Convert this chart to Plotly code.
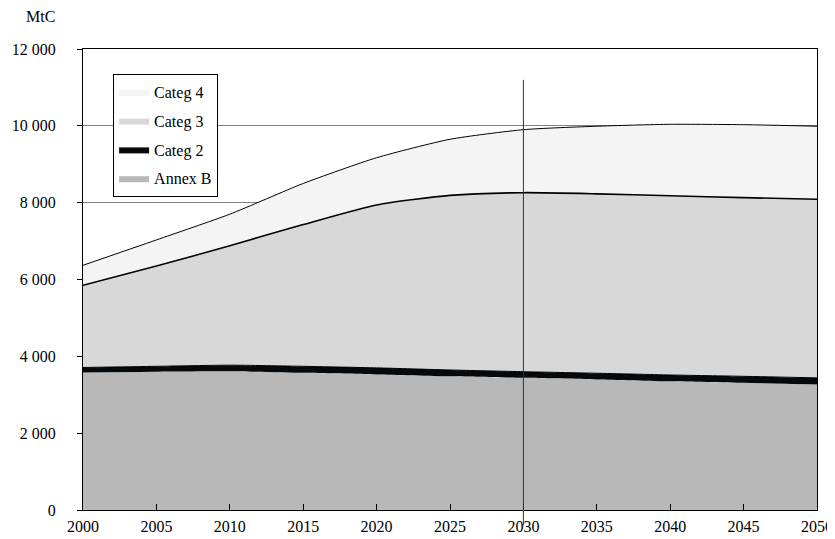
import numpy as np
import plotly.graph_objects as go

years = [2000, 2005, 2010, 2015, 2020, 2025, 2030, 2035, 2040, 2045, 2050]
annex_b = [3580, 3600, 3610, 3570, 3530, 3480, 3440, 3400, 3350, 3310, 3270]
categ_2 = [130, 140, 160, 170, 170, 165, 160, 160, 165, 170, 170]
categ_3 = [2140, 2610, 3110, 3690, 4240, 4545, 4660, 4670, 4665, 4650, 4650]
categ_4 = [520, 680, 820, 1070, 1230, 1460, 1640, 1760, 1860, 1900, 1900]

y_tickvals = [0, 2000, 4000, 6000, 8000, 10000, 12000]
y_ticktext = ["0", "2 000", "4 000", "6 000", "8 000", "10 000", "12 000"]
x_tickvals = [2000, 2005, 2010, 2015, 2020, 2025, 2030, 2035, 2040, 2045, 2050]

marker_year = 2030
unit_label = "MtC"

FONT = "Liberation Serif"

series = [
    ("Annex B", annex_b, "#b8b8b8"),
    ("Categ 2", categ_2, "#05090c"),
    ("Categ 3", categ_3, "#d8d8d8"),
    ("Categ 4", categ_4, "#f4f4f4"),
]

fig = go.Figure()
for i, (name, vals, col) in enumerate(series):
    fig.add_trace(go.Scatter(
        x=years, y=vals, name=name, stackgroup="one", mode="lines",
        line=dict(width=0, color=col, shape="spline", smoothing=0.6),
        fillcolor=col, legendgroup=name, legendrank=len(series) - i,
        hoverinfo="skip",
    ))

cum = np.cumsum(np.array([annex_b, categ_2, categ_3, categ_4]), axis=0)
for k, w in [(1, 1.0), (2, 1.6), (3, 1.0)]:
    fig.add_trace(go.Scatter(
        x=years, y=cum[k], mode="lines", showlegend=False, hoverinfo="skip",
        line=dict(color="black", width=w, shape="spline", smoothing=0.6),
    ))

fig.add_shape(type="line", xref="x", yref="paper", x0=marker_year, x1=marker_year,
              y0=-0.033, y1=0.933, line=dict(color="#333", width=1), layer="above")

fig.add_annotation(text=unit_label, xref="paper", yref="paper", x=-0.0354, y=1.048,
                   xanchor="right", yanchor="bottom", showarrow=False,
                   font=dict(family=FONT, size=16, color="black"))

# the page body adds an 8px offset; size and margins compensate for it
fig.update_layout(
    width=827, height=531,
    margin=dict(l=75, r=18, t=41, b=29, autoexpand=False),
    paper_bgcolor="white", plot_bgcolor="white",
    font=dict(family=FONT, size=16, color="black"),
    showlegend=True,
    legend=dict(x=0.041, y=0.946, xanchor="left", yanchor="top",
                bordercolor="black", borderwidth=1, bgcolor="white",
                traceorder="grouped", tracegroupgap=5,
                font=dict(family=FONT, size=16, color="black")),
    xaxis=dict(range=[2000, 2050], tickvals=x_tickvals, ticks="inside", ticklen=6,
               tickcolor="black", showline=True, linecolor="black", linewidth=1,
               mirror=True, showgrid=False, zeroline=False, automargin=False,
               ticklabelstandoff=2, tickfont=dict(family=FONT, size=16)),
    yaxis=dict(range=[0, 12000], tickvals=y_tickvals, ticktext=y_ticktext,
               ticks="outside", ticklen=5, tickcolor="black",
               showline=True, linecolor="black", linewidth=1, mirror=True,
               showgrid=True, gridcolor="#808080", gridwidth=1, zeroline=False,
               automargin=False, ticklabelstandoff=18,
               tickfont=dict(family=FONT, size=16)),
    yaxis2=dict(overlaying="y", matches="y", range=[0, 12000], tickvals=y_tickvals,
                ticks="inside", ticklen=5, tickcolor="black", showticklabels=False,
                showgrid=False, zeroline=False, showline=False, side="left",
                automargin=False),
)
fig.write_html("out.html")
